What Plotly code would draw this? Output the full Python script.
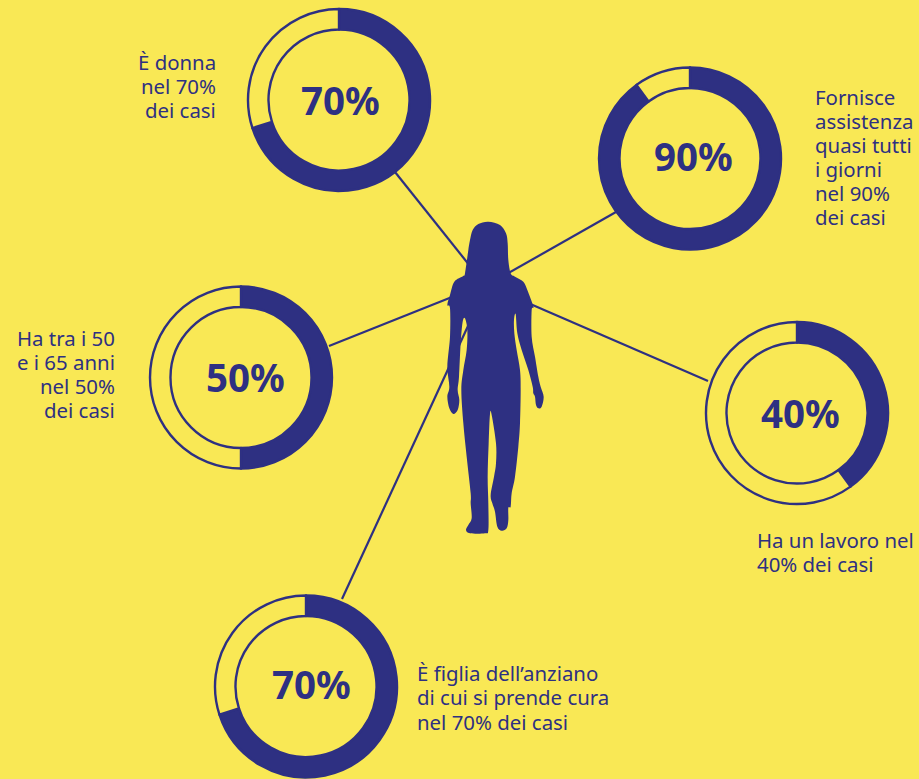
import plotly.graph_objects as go

WIDTH, HEIGHT = 919, 779
NAVY = "#2E3082"
YELLOW = "#F9E855"
FONT = "Noto Sans"

# Share of cases for each caregiver trait
traits = ["donna", "assistenza", "età", "lavoro", "figlia"]
shares = [70, 90, 50, 40, 70]
centers_x = [339, 690, 241, 797, 306]
centers_y = [100, 158.5, 377.5, 413, 686.5]
value_label_x = [340, 693, 245, 800, 311]
value_label_y = [100, 156, 377, 413, 684]

# Caption text, one entry per line
caption_lines = [
    "È donna", "nel 70%", "dei casi",
    "Fornisce", "assistenza", "quasi tutti", "i giorni", "nel 90%", "dei casi",
    "Ha tra i 50", "e i 65 anni", "nel 50%", "dei casi",
    "Ha un lavoro nel", "40% dei casi",
    "È figlia dell’anziano", "di cui si prende cura", "nel 70% dei casi",
]
caption_x = [216, 216, 216,
             815, 815, 815, 815, 815, 815,
             115, 115, 115, 115,
             757, 757,
             417, 417, 417]
caption_y = [62, 86, 110,
             97, 121, 145, 169, 193, 217,
             338, 362, 386, 410,
             540, 564,
             673, 697, 722]
caption_anchor = ["right"] * 3 + ["left"] * 6 + ["right"] * 4 + ["left"] * 5

# Connector ends: ring edge, then the figure's body
link_start_x = [395, 616, 329, 708, 342]
link_start_y = [172, 212, 346, 381, 599]
link_end_x = [470, 505, 452, 528, 468]
link_end_y = [266, 275, 297, 303, 326]

# Silhouette outline, on a 3x grid offset from the figure's corner
BODY_ORIGIN = (420, 210)
body_x = [205, 240, 258, 263, 265, 272, 285, 310, 322, 340, 335, 335, 345, 355, 362, 371, 365, 355,
          348, 345, 340, 338, 325, 305, 292, 287, 282, 283, 290, 300, 302, 300, 295, 285, 275, 272,
          265, 265, 260, 245, 232, 225, 217, 212, 222, 228, 228, 215, 210, 206, 203, 205, 205, 195,
          150, 138, 145, 155, 152, 152, 140, 130, 124, 130, 140, 142, 135, 128, 122, 117, 113, 118,
          113, 100, 88, 82, 88, 82, 90, 90, 82, 90, 103, 130, 135, 145, 150, 158, 175]
body_y = [35, 45, 70, 100, 150, 190, 200, 215, 240, 290, 300, 380, 440, 500, 530, 560, 590, 595,
          585, 560, 550, 530, 480, 420, 370, 312, 330, 370, 420, 480, 540, 640, 710, 800, 850, 890,
          893, 930, 955, 962, 950, 905, 880, 855, 800, 760, 700, 615, 612, 700, 800, 880, 960, 970,
          970, 960, 945, 925, 880, 850, 740, 640, 540, 480, 420, 360, 325, 335, 400, 500, 540, 570,
          600, 612, 595, 560, 530, 470, 380, 295, 285, 255, 215, 198, 190, 120, 90, 60, 42]

RING_RADIUS = 91
RING_HOLE = 0.775

fig = go.Figure()

# Straight connectors from each ring to the silhouette
for x0, y0, x1, y1 in zip(link_start_x, link_start_y, link_end_x, link_end_y):
    fig.add_trace(go.Scatter(
        x=[x0, x1], y=[y0, y1], mode="lines",
        line=dict(color=NAVY, width=2.2),
        hoverinfo="skip", showlegend=False,
    ))

# Progress rings: filled share plus a hollow outlined remainder
for name, share, cx, cy in zip(traits, shares, centers_x, centers_y):
    fig.add_trace(go.Pie(
        name=name,
        values=[share, 100 - share],
        sort=False,
        direction="clockwise",
        rotation=0,
        hole=RING_HOLE,
        textinfo="none",
        hoverinfo="skip",
        showlegend=False,
        marker=dict(colors=[NAVY, YELLOW], line=dict(color=NAVY, width=2.4)),
        domain=dict(
            x=[(cx - RING_RADIUS) / WIDTH, (cx + RING_RADIUS) / WIDTH],
            y=[max(0, 1 - (cy + RING_RADIUS) / HEIGHT), 1 - (cy - RING_RADIUS) / HEIGHT],
        ),
    ))

annotations = []
for share, x, y in zip(shares, value_label_x, value_label_y):
    annotations.append(dict(
        x=x, y=y, xref="x", yref="y", text=f"<b>{share}%</b>", showarrow=False,
        xanchor="center", yanchor="middle",
        font=dict(family=FONT, size=38.5, color=NAVY),
    ))
for text, x, y, anchor in zip(caption_lines, caption_x, caption_y, caption_anchor):
    annotations.append(dict(
        x=x, y=y, xref="x", yref="y", text=text, showarrow=False,
        xanchor=anchor, yanchor="middle", borderpad=0, borderwidth=0,
        font=dict(family=FONT, size=20.4, color=NAVY),
    ))


def smooth_closed_path(points):
    """Closed Catmull-Rom outline written as cubic Bezier segments."""
    n = len(points)
    path = f"M {points[0][0]:.2f},{points[0][1]:.2f}"
    for i in range(n):
        p0, p1, p2, p3 = points[i - 1], points[i], points[(i + 1) % n], points[(i + 2) % n]
        c1 = (p1[0] + (p2[0] - p0[0]) / 6, p1[1] + (p2[1] - p0[1]) / 6)
        c2 = (p2[0] - (p3[0] - p1[0]) / 6, p2[1] - (p3[1] - p1[1]) / 6)
        path += f" C {c1[0]:.2f},{c1[1]:.2f} {c2[0]:.2f},{c2[1]:.2f} {p2[0]:.2f},{p2[1]:.2f}"
    return path + " Z"


outline = [(BODY_ORIGIN[0] + px / 3, BODY_ORIGIN[1] + py / 3) for px, py in zip(body_x, body_y)]

fig.update_layout(
    width=WIDTH,
    height=HEIGHT,
    margin=dict(l=0, r=0, t=0, b=0),
    paper_bgcolor=YELLOW,
    plot_bgcolor=YELLOW,
    showlegend=False,
    xaxis=dict(range=[0, WIDTH], visible=False, fixedrange=True),
    yaxis=dict(range=[HEIGHT, 0], visible=False, fixedrange=True),
    annotations=annotations,
    shapes=[dict(type="path", path=smooth_closed_path(outline), xref="x", yref="y",
                 fillcolor=NAVY, line=dict(width=0), layer="above")],
)

fig.write_html("out.html", config=dict(displayModeBar=False))
